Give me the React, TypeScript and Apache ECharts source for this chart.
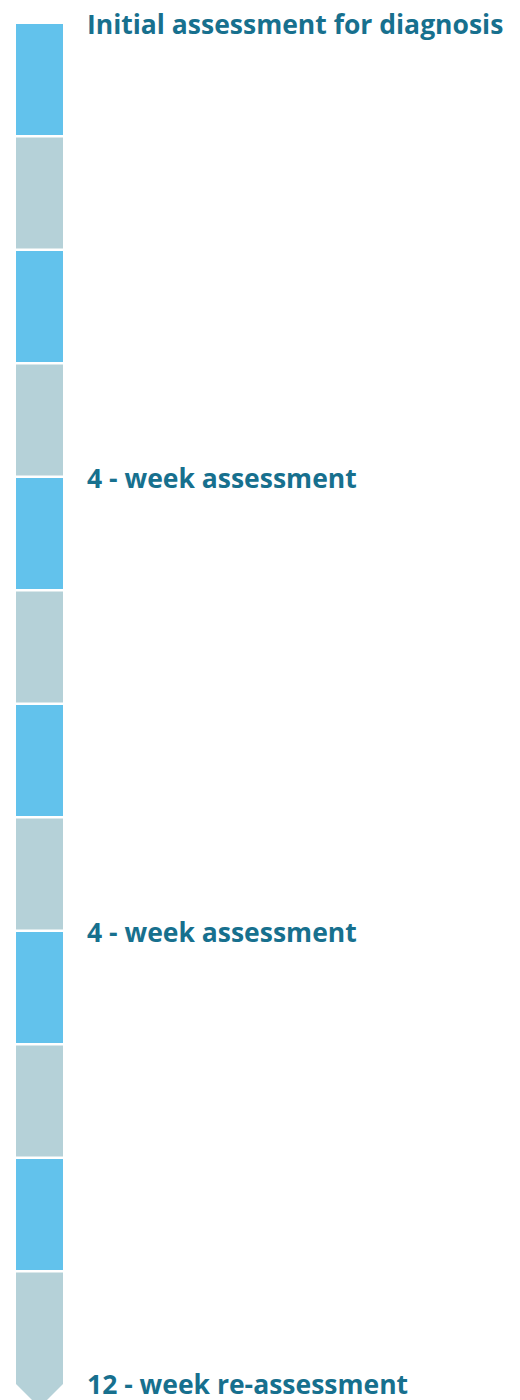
import React, { useEffect, useRef } from "react";
import * as echarts from "echarts";

// 12 one-week segments of the timeline (start week of each segment)
const segmentWeeks: number[] = [0, 1, 2, 3, 4, 5, 6, 7, 8, 9, 10, 11];
// milestones (week positions) and their labels
const milestoneWeeks: number[] = [0, 4, 8, 12];
const milestoneLabels: string[] = [
  "Initial assessment for diagnosis",
  "4 - week assessment",
  "4 - week assessment",
  "12 - week re-assessment",
];
const totalWeeks = 12;

const BLUE = "#62C2EC";
const GREY = "#B5D1D8";
const TEXT = "#17708E";

export default function App() {
  const ref = useRef<HTMLDivElement>(null);
  useEffect(() => {
    if (!ref.current) return;
    const chart = echarts.init(ref.current, null, { renderer: "svg" });
    const gap = 2.5;
    chart.setOption({
      animation: false,
      backgroundColor: "#ffffff",
      grid: { left: 16, width: 47, top: 24, height: 1362 },
      xAxis: { type: "value", min: 0, max: 1, show: false },
      yAxis: {
        type: "value",
        min: 0,
        max: totalWeeks,
        inverse: true,
        show: false,
      },
      series: [
        {
          type: "custom",
          clip: false,
          data: segmentWeeks.map((w) => [w]),
          renderItem: (params: any, api: any) => {
            const w = api.value(0);
            const tl = api.coord([0, w]);
            const br = api.coord([1, w + 1]);
            const idx = params.dataIndex;
            const color = idx % 2 === 0 ? BLUE : GREY;
            const x0 = tl[0];
            const x1 = br[0];
            const y0 = tl[1];
            const y1 = br[1] - gap;
            if (idx === segmentWeeks.length - 1) {
              const half = (x1 - x0) / 2;
              const yEnd = br[1] - 2;
              return {
                type: "polygon",
                shape: {
                  points: [
                    [x0, y0],
                    [x1, y0],
                    [x1, yEnd],
                    [x0 + half, yEnd + half],
                    [x0, yEnd],
                  ],
                },
                style: { fill: color },
              };
            }
            return {
              type: "rect",
              shape: { x: x0, y: y0, width: x1 - x0, height: y1 - y0 },
              style: { fill: color },
            };
          },
        },
        {
          type: "scatter",
          symbolSize: 0,
          clip: false,
          silent: true,
          itemStyle: { opacity: 1 },
          data: milestoneWeeks.map((w, i) => ({
            value: [1, w],
            label: {
              show: true,
              position: "right",
              distance: 24,
              offset: [0, i === milestoneWeeks.length - 1 ? -2 : 0],
              formatter: milestoneLabels[i],
              color: TEXT,
              fontFamily: "Open Sans",
              fontWeight: "bold",
              fontSize: 26.5,
              lineHeight: 22,
            },
          })),
        },
      ],
    });
    return () => chart.dispose();
  }, []);
  return (
    <div
      ref={ref}
      style={{ position: "absolute", left: 0, top: 0, width: 520, height: 1400 }}
    />
  );
}
